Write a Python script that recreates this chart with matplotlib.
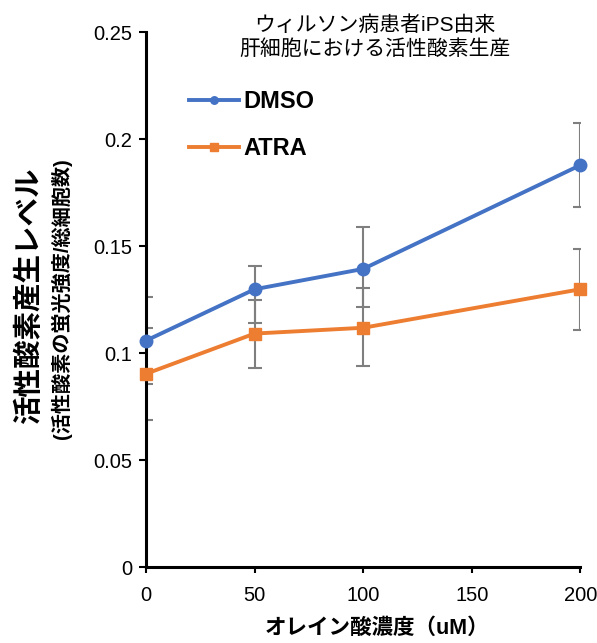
import matplotlib
matplotlib.use("Agg")
import matplotlib.pyplot as plt
import numpy as np

plt.rcParams['font.family'] = ['Liberation Sans', 'Noto Sans CJK JP', 'DejaVu Sans']

# data
conc = [0, 50, 100, 200]
dmso = [0.106, 0.130, 0.1395, 0.188]
dmso_lo = [0.0205, 0.016, 0.018, 0.0195]
dmso_hi = [0.0205, 0.0107, 0.0195, 0.0195]
atra = [0.0905, 0.1093, 0.112, 0.130]
atra_lo = [0.0215, 0.0159, 0.018, 0.019]
atra_hi = [0.0215, 0.0159, 0.0187, 0.019]

xticks = [0, 50, 100, 150, 200]
yticks = [0, 0.05, 0.1, 0.15, 0.2, 0.25]
yticklabels = ['0', '0.05', '0.1', '0.15', '0.2', '0.25']

blue = '#4472C4'
orange = '#ED7D31'
errc = '#7F7F7F'

fig = plt.figure(figsize=(5.97, 6.43), dpi=100)
ax = fig.add_axes([0.2446, 0.1175, 0.7275, 0.832])

ax.errorbar(conc, dmso, yerr=[dmso_lo, dmso_hi], fmt='none', ecolor=errc,
            elinewidth=1.5, capsize=5, capthick=1.5, zorder=2)
ax.errorbar(conc, atra, yerr=[atra_lo, atra_hi], fmt='none', ecolor=errc,
            elinewidth=1.5, capsize=5, capthick=1.5, zorder=2)
ax.plot(conc, dmso, color=blue, lw=2.8, marker='o', ms=9, label='DMSO',
        zorder=3, clip_on=False)
ax.plot(conc, atra, color=orange, lw=2.8, marker='s', ms=9, label='ATRA',
        zorder=3, clip_on=False)

ax.set_xlim(0, 200)
ax.set_ylim(0, 0.25)
ax.set_xticks(xticks)
ax.set_yticks(yticks)
ax.set_yticklabels(yticklabels)
ax.tick_params(axis='both', labelsize=14.5, width=1.5, colors='black')
ax.tick_params(axis='y', length=5, pad=5)
ax.tick_params(axis='x', length=4, pad=9)

for s in ['top', 'right']:
    ax.spines[s].set_visible(False)
for s in ['left', 'bottom']:
    ax.spines[s].set_linewidth(2.2)

leg = ax.legend(loc='upper left', bbox_to_anchor=(0.1, 0.892), frameon=False,
                prop={'size': 17, 'weight': 'bold'}, handlelength=2.1,
                handletextpad=0.2, labelspacing=1.0, markerscale=0.6,
                borderpad=0, borderaxespad=0)

fig.text(0.628, 0.942, 'ウィルソン病患者iPS由来\n肝細胞における活性酸素生産',
         ha='center', va='center', fontsize=15, linespacing=1.3)

fig.text(0.05, 0.54, '活性酸素産生レベル', rotation=90, ha='center',
         va='center', fontsize=20.5, fontweight='bold')
fig.text(0.103, 0.535, '(活性酸素の蛍光強度/総細胞数)', rotation=90, ha='center',
         va='center', fontsize=14.5, fontweight='bold')
fig.text(0.632, 0.006, 'オレイン酸濃度（uM）', ha='center', va='bottom',
         fontsize=15.5, fontweight='bold')

fig.savefig('out.png', dpi=100)
